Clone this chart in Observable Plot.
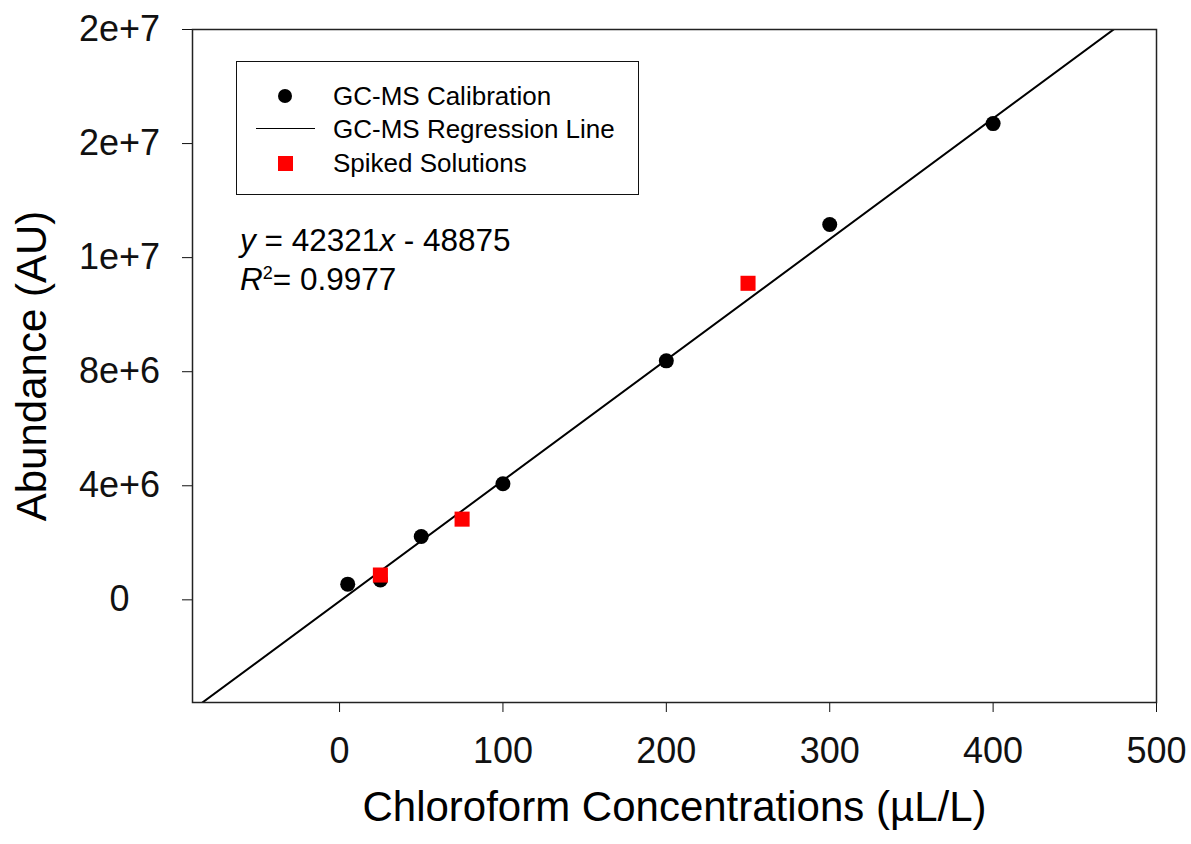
<!DOCTYPE html>
<html>
<head>
<meta charset="utf-8">
<script src="https://cdn.jsdelivr.net/npm/d3@7"></script>
<script src="https://cdn.jsdelivr.net/npm/@observablehq/plot@0.6"></script>
<style>
  html, body { margin: 0; padding: 0; background: #fff; }
  #wrap { position: relative; width: 1191px; height: 844px; font-family: "Liberation Sans", Arial, sans-serif; color: #000; }
  #legend { position: absolute; left: 236px; top: 61px; width: 401px; height: 132px; border: 1.5px solid #111; background: #fff; }
  .row { position: absolute; left: 0; height: 34px; font-size: 26px; line-height: 34px; }
  .row .lbl { position: absolute; left: 96px; white-space: nowrap; }
  .sym { position: absolute; }
  #eq { position: absolute; left: 240px; top: 221px; font-size: 31.5px; line-height: 39px; white-space: nowrap; }
</style>
</head>
<body>
<div id="wrap"></div>
<script>
// ---- data ----
const xTicks = [0, 100, 200, 300, 400, 500];
const yTicks = [0, 4e6, 8e6, 12e6, 16e6, 20e6];
const yTickLabels = ["0", "4e+6", "8e+6", "1e+7", "2e+7", "2e+7"];
const calibX = [5, 25, 50, 100, 200, 300, 400];
const calibY = [0.55e6, 0.70e6, 2.22e6, 4.07e6, 8.38e6, 13.16e6, 16.70e6];
const spikedX = [25, 75, 250];
const spikedY = [0.87e6, 2.83e6, 11.10e6];
const slope = 42321;
const intercept = -48875;
const r2 = "0.9977";
const xDomain = [-90, 500];
const yDomain = [-3.6e6, 20e6];
const legendLabels = ["GC-MS Calibration", "GC-MS Regression Line", "Spiked Solutions"];
const xTitle = "Chloroform Concentrations (µL/L)";
const yTitle = "Abundance (AU)";

const calib = calibX.map((x, i) => ({x, y: calibY[i]}));
const spiked = spikedX.map((x, i) => ({x, y: spikedY[i]}));
const regLine = xDomain.map(x => ({x, y: slope * x + intercept}));

const chart = Plot.plot({
  width: 1191,
  height: 844,
  marginTop: 29,
  marginBottom: 142,
  marginLeft: 192,
  marginRight: 35,
  style: {fontFamily: '"Liberation Sans", Arial, sans-serif', color: "#111", background: "#fff"},
  x: {domain: xDomain},
  y: {domain: yDomain},
  marks: [
    Plot.axisX({ticks: xTicks, tickSize: 10, tickPadding: 25, fontSize: 36, label: null, tickFormat: d => String(d)}),
    Plot.axisY({ticks: yTicks, tickSize: 10, tickPadding: 63, fontSize: 36, label: null, textAnchor: "middle",
      tickFormat: (d, i) => yTickLabels[yTicks.indexOf(d)]}),
    Plot.line(regLine, {x: "x", y: "y", stroke: "#000", strokeWidth: 2, clip: true}),
    Plot.dot(calib, {x: "x", y: "y", r: 7.5, fill: "#000"}),
    Plot.dot(spiked, {x: "x", y: "y", r: 8.5, symbol: "square", fill: "#ff0000"}),
    Plot.frame({stroke: "#222", strokeWidth: 1.5}),
    Plot.text([xTitle], {frameAnchor: "bottom", dy: 118, fontSize: 42, fill: "#000"}),
    Plot.text([yTitle], {frameAnchor: "left", textAnchor: "middle", dx: -160, rotate: -90, fontSize: 42, fill: "#000"})
  ]
});

const wrap = document.getElementById("wrap");
wrap.appendChild(chart);

// legend
const legend = document.createElement("div");
legend.id = "legend";
const rowTops = [17, 50, 84];
legendLabels.forEach((lab, i) => {
  const row = document.createElement("div");
  row.className = "row";
  row.style.top = rowTops[i] + "px";
  row.style.width = "400px";
  const sym = document.createElement("div");
  sym.className = "sym";
  if (i === 0) {
    Object.assign(sym.style, {left: "41px", top: "10px", width: "14px", height: "14px", borderRadius: "50%", background: "#000"});
  } else if (i === 1) {
    Object.assign(sym.style, {left: "19px", top: "16px", width: "59px", height: "0px", borderTop: "1.5px solid #000"});
  } else {
    Object.assign(sym.style, {left: "41px", top: "10px", width: "15px", height: "15px", background: "#ff0000"});
  }
  row.appendChild(sym);
  const t = document.createElement("span");
  t.className = "lbl";
  t.textContent = lab;
  row.appendChild(t);
  legend.appendChild(row);
});
wrap.appendChild(legend);

// equation
const eq = document.createElement("div");
eq.id = "eq";
eq.innerHTML = `<i>y</i> = ${slope}<i>x</i> - ${Math.abs(intercept)}<br><i>R</i><sup style="font-size:18px;vertical-align:0.6em;line-height:0">2</sup>= ${r2}`;
wrap.appendChild(eq);
</script>
</body>
</html>
